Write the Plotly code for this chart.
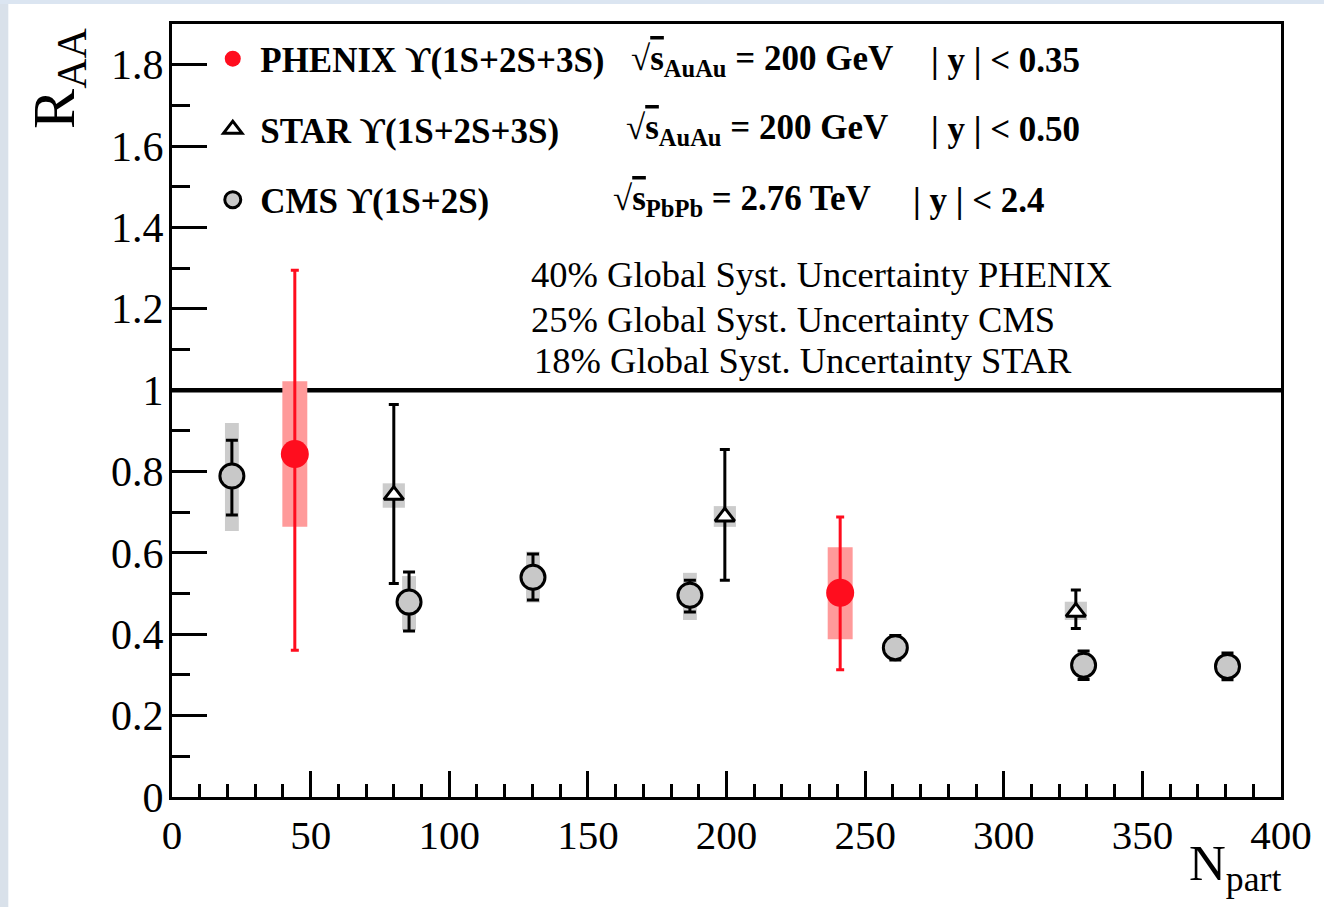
import numpy as np
import plotly.graph_objects as go

# ---------------- data ----------------
phenix_x = [44.3, 241.0]
phenix_y = [0.843, 0.502]
phenix_stat_hi = [1.295, 0.688]
phenix_stat_lo = [0.361, 0.313]
phenix_syst_hi = [1.022, 0.614]
phenix_syst_lo = [0.664, 0.388]

star_x = [80.0, 199.4, 326.0]
star_y = [0.742, 0.689, 0.455]
star_stat_hi = [0.965, 0.854, 0.509]
star_stat_lo = [0.525, 0.533, 0.414]
star_syst_hi = [0.771, 0.715, 0.480]
star_syst_lo = [0.711, 0.664, 0.435]

cms_x = [21.6, 85.5, 130.2, 186.8, 260.9, 328.8, 380.7]
cms_y = [0.789, 0.479, 0.540, 0.496, 0.367, 0.324, 0.321]
cms_stat_hi = [0.877, 0.553, 0.597, 0.533, 0.397, 0.359, 0.354]
cms_stat_lo = [0.693, 0.408, 0.484, 0.455, 0.337, 0.289, 0.288]
cms_syst_hi = [0.919, 0.543, 0.603, 0.551, 0.390, 0.350, 0.344]
cms_syst_lo = [0.654, 0.410, 0.478, 0.435, 0.345, 0.300, 0.300]

y_tickvals = [0, 0.2, 0.4, 0.6, 0.8, 1.0, 1.2, 1.4, 1.6, 1.8]
y_ticktext = ["0", "0.2", "0.4", "0.6", "0.8", "1", "1.2", "1.4", "1.6", "1.8"]
x_tickvals = [0, 50, 100, 150, 200, 250, 300, 350, 400]
x_ticktext = ["0", "50", "100", "150", "200", "250", "300", "350", "400"]

legend_names = ["<b>PHENIX \u03d2(1S+2S+3S)</b>", "<b>STAR \u03d2(1S+2S+3S)</b>",
                "<b>CMS \u03d2(1S+2S)</b>"]
energy_text = [
    "<b>\u221a<span style='text-decoration:overline'>s</span><sub>AuAu</sub> = 200 GeV</b>",
    "<b>\u221a<span style='text-decoration:overline'>s</span><sub>AuAu</sub> = 200 GeV</b>",
    "<b>\u221a<span style='text-decoration:overline'>s</span><sub>PbPb</sub> = 2.76 TeV</b>",
]
rapidity_text = ["<b>| y | < 0.35</b>", "<b>| y | < 0.50</b>", "<b>| y | < 2.4</b>"]
global_syst_text = [
    "40% Global Syst. Uncertainty PHENIX",
    "25% Global Syst. Uncertainty CMS",
    "18% Global Syst. Uncertainty STAR",
]

FONT = "Liberation Serif, Times New Roman, serif"
RED = "#ff0d1e"

fig = go.Figure()


def syst_bar(x, lo, hi, width, color):
    lo = np.array(lo)
    hi = np.array(hi)
    fig.add_trace(go.Bar(x=x, y=hi - lo, base=lo, width=width,
                         marker=dict(color=color, line=dict(width=0)),
                         showlegend=False, hoverinfo="skip"))


syst_bar(cms_x, cms_syst_lo, cms_syst_hi, 5.0, "#cccccc")
syst_bar(star_x, star_syst_lo, star_syst_hi, 8.0, "#cccccc")
syst_bar(phenix_x, phenix_syst_lo, phenix_syst_hi, 9.0, "#ff9a9a")


def err(y, hi, lo):
    y = np.array(y)
    return dict(type="data", symmetric=False, array=np.array(hi) - y,
                arrayminus=y - np.array(lo))


fig.add_trace(go.Scatter(
    x=phenix_x, y=phenix_y, mode="markers", name=legend_names[0],
    legendgroup="phenix",
    marker=dict(symbol="circle", size=28, color=RED, line=dict(width=0)),
    error_y=dict(**err(phenix_y, phenix_stat_hi, phenix_stat_lo),
                 color=RED, thickness=3, width=4)))

fig.add_trace(go.Scatter(
    x=star_x, y=star_y, mode="markers", name=legend_names[1],
    legendgroup="star",
    marker=dict(symbol="triangle-up", size=17, color="white",
                line=dict(width=3, color="black")),
    error_y=dict(**err(star_y, star_stat_hi, star_stat_lo),
                 color="black", thickness=3, width=5)))

fig.add_trace(go.Scatter(
    x=cms_x, y=cms_y, mode="markers", name=legend_names[2],
    legendgroup="cms",
    marker=dict(symbol="circle", size=24, color="#c8c8c8",
                line=dict(width=3, color="black")),
    error_y=dict(**err(cms_y, cms_stat_hi, cms_stat_lo),
                 color="black", thickness=3, width=6)))

# reference line at R_AA = 1
fig.add_shape(type="line", xref="paper", x0=0, x1=1, yref="y", y0=1, y1=1,
              line=dict(color="black", width=4.5), layer="below")

# slide background strips (outside plot)
fig.add_shape(type="rect", xref="paper", yref="paper", x0=-0.16, x1=-0.1476,
              y0=-0.15, y1=1.04, fillcolor="#d9e1ea", line=dict(width=0), layer="below")
fig.add_shape(type="rect", xref="paper", yref="paper", x0=-0.16, x1=1.04,
              y0=1.0259, y1=1.04, fillcolor="#dbe5f1", line=dict(width=0), layer="below")

row_y = [0.9534, 0.8629, 0.7723]
energy_x = [0.4122, 0.4077, 0.396]
rap_x = [0.6823, 0.6823, 0.666]
for i in range(3):
    fig.add_annotation(xref="paper", yref="paper", x=energy_x[i], y=row_y[i],
                       text=energy_text[i], showarrow=False, xanchor="left",
                       yanchor="middle", font=dict(family=FONT, size=35, color="black"))
    fig.add_annotation(xref="paper", yref="paper", x=rap_x[i], y=row_y[i],
                       text=rapidity_text[i], showarrow=False, xanchor="left",
                       yanchor="middle", font=dict(family=FONT, size=35, color="black"))

gs_y = [0.6753, 0.6171, 0.5653]
gs_x = [0.3222, 0.3222, 0.3249]
for i in range(3):
    fig.add_annotation(xref="paper", yref="paper", x=gs_x[i], y=gs_y[i],
                       text=global_syst_text[i], showarrow=False, xanchor="left",
                       yanchor="middle", font=dict(family=FONT, size=36.5, color="black"))

# axis titles
fig.add_annotation(xref="paper", yref="paper", x=-0.103, y=0.93,
                   text="R<sub>AA</sub>", textangle=-90, showarrow=False,
                   xanchor="center", yanchor="middle",
                   font=dict(family=FONT, size=60, color="black"))
fig.add_annotation(xref="paper", yref="paper", x=1.0015, y=-0.046,
                   text="N<sub>part</sub>", showarrow=False,
                   xanchor="right", yanchor="top",
                   font=dict(family=FONT, size=51, color="black"))

axis_common = dict(showgrid=False, zeroline=False, showline=True, linecolor="black",
                   linewidth=3, mirror=True, ticks="inside", tickcolor="black",
                   tickwidth=3)

fig.update_xaxes(range=[0, 400], tickmode="array", tickvals=x_tickvals,
                 ticktext=x_ticktext, ticklen=26,
                 tickfont=dict(family=FONT, size=41, color="black"),
                 minor=dict(tickmode="linear", tick0=0, dtick=10, ticks="inside",
                            ticklen=13, tickwidth=3, tickcolor="black"),
                 **axis_common)
fig.update_yaxes(range=[0, 1.9], tickmode="array", tickvals=y_tickvals,
                 ticktext=y_ticktext, ticklen=35, ticklabelstandoff=-3,
                 tickfont=dict(family=FONT, size=42, color="black"),
                 minor=dict(tickmode="linear", tick0=0, dtick=0.1, ticks="inside",
                            ticklen=18, tickwidth=3, tickcolor="black"),
                 **axis_common)

fig.update_layout(
    width=1324, height=907,
    margin=dict(l=172, r=41, t=24, b=110),
    paper_bgcolor="white", plot_bgcolor="white",
    barmode="overlay",
    showlegend=True,
    legend=dict(x=0.03, y=0.993, xanchor="left", yanchor="top",
                bgcolor="rgba(0,0,0,0)", borderwidth=0,
                font=dict(family=FONT, size=35, color="black"),
                itemwidth=45, traceorder="grouped", tracegroupgap=22),
)

fig.write_html("out.html")
